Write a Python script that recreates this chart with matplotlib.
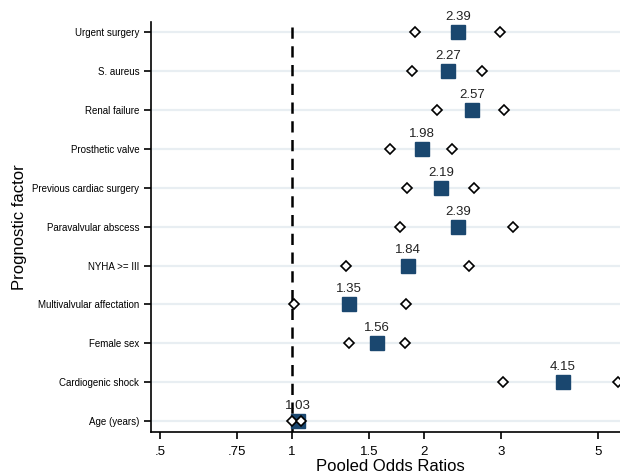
import matplotlib
matplotlib.use("Agg")
import matplotlib.pyplot as plt
from matplotlib.ticker import FixedLocator, NullLocator

plt.rcParams["font.family"] = ["Liberation Sans", "DejaVu Sans"]

# -----------------------------
# Data
# -----------------------------
factors = ["Urgent surgery", "S. aureus", "Renal failure", "Prosthetic valve",
           "Previous cardiac surgery", "Paravalvular abscess", "NYHA >= III",
           "Multivalvular affectation", "Female sex", "Cardiogenic shock", "Age (years)"]
odds_ratio = [2.39, 2.27, 2.57, 1.98, 2.19, 2.39, 1.84, 1.35, 1.56, 4.15, 1.03]
ci_low = [1.91, 1.88, 2.14, 1.67, 1.83, 1.76, 1.33, 1.01, 1.35, 3.03, 1.00]
ci_high = [2.98, 2.72, 3.04, 2.32, 2.60, 3.19, 2.54, 1.82, 1.81, 5.55, 1.05]

xticks = [0.5, 0.75, 1, 1.5, 2, 3, 5]
xtick_labels = [".5", ".75", "1", "1.5", "2", "3", "5"]

# -----------------------------
# Plotting
# -----------------------------
fig = plt.figure(figsize=(6.2, 4.74), dpi=100)
ax = fig.add_axes([151 / 620, 1 - 432 / 474, 1 - 151 / 620, (432 - 22) / 474])

n = len(factors)
ypos = list(range(n, 0, -1))

for y in ypos:
    ax.axhline(y, color="#e8eef2", lw=1.6, zorder=0)

ax.axvline(1, color="black", lw=1.8, linestyle=(0, (4.5, 3)), zorder=1)

ax.plot(odds_ratio, ypos, linestyle="none", marker="s", markersize=9.5,
        color="#1a476f", zorder=2)
ax.plot(ci_low, ypos, linestyle="none", marker="D", markersize=5.5,
        markerfacecolor="white", markeredgecolor="black", markeredgewidth=1.2, zorder=3)
ax.plot(ci_high, ypos, linestyle="none", marker="D", markersize=5.5,
        markerfacecolor="white", markeredgecolor="black", markeredgewidth=1.2, zorder=3)

for x, y in zip(odds_ratio, ypos):
    ax.annotate(f"{x:.2f}", (x, y), xytext=(0, 6.5), textcoords="offset points",
                ha="center", va="bottom", fontsize=9.5, color="#222222", zorder=4)

ax.set_xscale("log")
ax.set_xlim(0.477, 5.6)
ax.set_ylim(0.72, 11.26)
ax.xaxis.set_major_locator(FixedLocator(xticks))
ax.xaxis.set_minor_locator(NullLocator())
ax.set_xticklabels(xtick_labels, fontsize=9.5)
ax.set_yticks(ypos)
ax.set_yticklabels(factors, fontsize=7)
ax.tick_params(axis="both", direction="out", length=5, width=1.2, colors="black")
ax.tick_params(axis="x", pad=5)

for side in ["top", "right"]:
    ax.spines[side].set_visible(False)
for side in ["left", "bottom"]:
    ax.spines[side].set_linewidth(1.2)

ax.set_xlabel("Pooled Odds Ratios", fontsize=12, labelpad=0)
ax.xaxis.set_label_coords(0.51, -0.065)
ax.set_ylabel("Prognostic factor", fontsize=12, labelpad=4)

plt.savefig("out.png", dpi=100)
